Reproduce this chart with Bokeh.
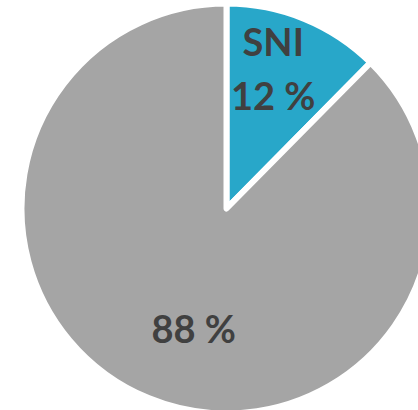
import math
from bokeh.plotting import figure
from bokeh.models import Range1d, ColumnDataSource
from bokeh.core.properties import value
from bokeh.embed import file_html
from bokeh.resources import INLINE

categories = ["SNI", "Other"]
shares = [12.4, 87.6]
colors = ["#28A7C9", "#A5A5A5"]
show_name = [True, False]
label_shift = [(0, 0), (14, -6)]  # pixel nudges for label placement

CX, CY = 226, 208  # pie centre in page pixels
p = figure(width=418, height=410, output_backend="svg", toolbar_location=None,
           x_range=Range1d(-CX, 418 - CX), y_range=Range1d(CY - 410, CY), min_border=0)
p.axis.visible = False
p.grid.visible = False
p.outline_line_color = None
p.background_fill_color = "white"

total = sum(shares)
starts, ends, mids = [], [], []
a = math.pi / 2
for s in shares:
    span = 2 * math.pi * s / total
    starts.append(a - span)
    ends.append(a)
    mids.append(a - span / 2)
    a -= span

src = ColumnDataSource(dict(start=starts, end=ends, color=colors))
p.wedge(x=0, y=0, radius=205, start_angle="start", end_angle="end", fill_color="color",
        line_color="white", line_width=6, line_join="round", source=src)

lr = 123
tx, ty, tt = [], [], []
for cat, s, m, sn, (dx, dy) in zip(categories, shares, mids, show_name, label_shift):
    x = lr * math.cos(m) + dx
    y = lr * math.sin(m) + dy
    if sn:
        tx.append(x); ty.append(y + 54); tt.append(cat)
    tx.append(x); ty.append(y); tt.append(f"{round(s)} %")

p.text(x=tx, y=ty, text=tt, text_font=value("Lato"), text_font_style="bold",
       text_font_size="38px", text_color="#404040", text_align="center",
       text_baseline="middle")

open("out.html", "w").write(file_html(p, INLINE))
